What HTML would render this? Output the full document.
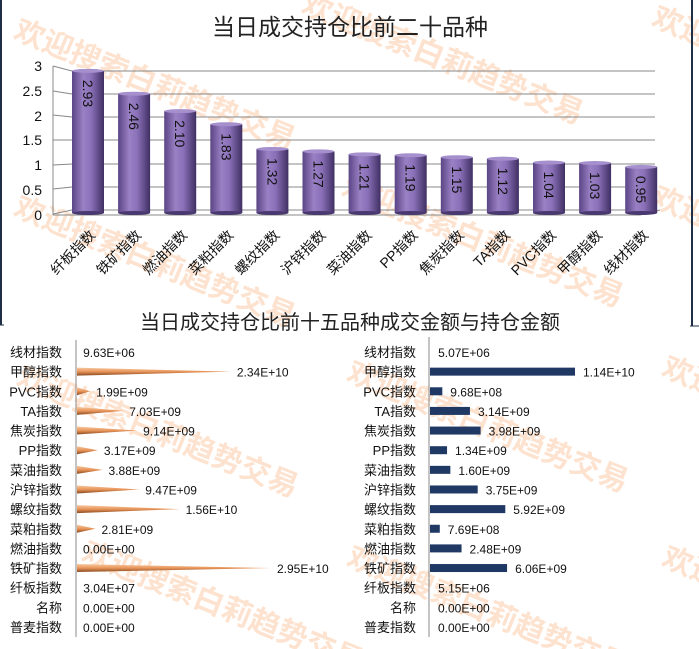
<!DOCTYPE html>
<html><head><meta charset="utf-8"><style>
html,body{margin:0;background:#fff;overflow:hidden;width:699px;height:649px;}
svg{display:block;font-family:"Liberation Sans","Noto Sans CJK SC",sans-serif;}
</style></head><body>
<svg width="699" height="649" viewBox="0 0 699 649" xmlns="http://www.w3.org/2000/svg">
<defs>
<linearGradient id="cyl" x1="0" x2="1" y1="0" y2="0">
<stop offset="0" stop-color="#5a4585"/><stop offset="0.35" stop-color="#9a80c4"/><stop offset="0.6" stop-color="#8a70b8"/><stop offset="1" stop-color="#3f2f62"/>
</linearGradient>
<linearGradient id="cone" x1="0" x2="0" y1="0" y2="1">
<stop offset="0" stop-color="#f7c8a0"/><stop offset="0.5" stop-color="#e8955a"/><stop offset="1" stop-color="#8a4a20"/>
</linearGradient>
</defs>
<rect width="699" height="649" fill="#fff"/>
<g fill="#fde3cf" font-weight="bold" font-size="30">
<text transform="translate(12,38) rotate(22)">欢迎搜索白莉趋势交易</text>
<text transform="translate(300,12) rotate(22)">欢迎搜索白莉趋势交易</text>
<text transform="translate(12,215) rotate(22)">欢迎搜索白莉趋势交易</text>
<text transform="translate(340,195) rotate(22)">欢迎搜索白莉趋势交易</text>
<text transform="translate(15,385) rotate(22)">欢迎搜索白莉趋势交易</text>
<text transform="translate(345,380) rotate(22)">欢迎搜索白莉趋势交易</text>
<text transform="translate(80,560) rotate(22)">欢迎搜索白莉趋势交易</text>
<text transform="translate(345,565) rotate(22)">欢迎搜索白莉趋势交易</text>
<text transform="translate(650,25) rotate(22)">欢迎</text>
<text transform="translate(650,205) rotate(22)">欢迎</text>
<text transform="translate(660,375) rotate(22)">欢迎</text>
<text transform="translate(660,565) rotate(22)">欢迎</text>
</g>
<line x1="1" y1="0" x2="1" y2="325" stroke="#1f2f45" stroke-width="2"/>
<line x1="692" y1="0" x2="692" y2="326" stroke="#1f2f45" stroke-width="2"/>
<line x1="0" y1="325" x2="4" y2="325" stroke="#1f2f45"/>
<line x1="690" y1="326" x2="699" y2="326" stroke="#1f2f45"/>

<text x="350" y="35" font-size="23" text-anchor="middle" fill="#222">当日成交持仓比前二十品种</text>
<g stroke="#888" stroke-width="1">
<line x1="72" y1="71" x2="655" y2="71"/><line x1="53" y1="66" x2="72" y2="71"/>
<line x1="72" y1="94" x2="655" y2="94"/><line x1="53" y1="91" x2="72" y2="94"/>
<line x1="72" y1="117" x2="655" y2="117"/><line x1="53" y1="115" x2="72" y2="117"/>
<line x1="72" y1="140" x2="655" y2="140"/><line x1="53" y1="140" x2="72" y2="140"/>
<line x1="72" y1="164" x2="655" y2="164"/><line x1="53" y1="165" x2="72" y2="164"/>
<line x1="72" y1="187" x2="655" y2="187"/><line x1="53" y1="189" x2="72" y2="187"/>
<line x1="72" y1="210" x2="655" y2="210"/><line x1="53" y1="214" x2="72" y2="210"/>
<line x1="53" y1="66" x2="53" y2="215"/>
<line x1="53" y1="215" x2="640" y2="215"/><line x1="640" y1="215" x2="660" y2="210"/>
</g>
<g font-size="14" fill="#111" text-anchor="end">
<text x="42" y="71">3</text><text x="42" y="96">2.5</text><text x="42" y="121">2</text><text x="42" y="145">1.5</text><text x="42" y="170">1</text><text x="42" y="195">0.5</text><text x="42" y="220">0</text>
</g>
<g id="bars" font-size="14" fill="#111"></g>
<script>
(function(){
var vals=[2.93,2.46,2.10,1.83,1.32,1.27,1.21,1.19,1.15,1.12,1.04,1.03,0.95];
var cats=["纤板指数","铁矿指数","燃油指数","菜粕指数","螺纹指数","沪锌指数","菜油指数","PP指数","焦炭指数","TA指数","PVC指数","甲醇指数","线材指数"];
var NS="http://www.w3.org/2000/svg",g=document.getElementById("bars");
function el(n,a,t){var e=document.createElementNS(NS,n);for(var k in a)e.setAttribute(k,a[k]);if(t)e.textContent=t;g.appendChild(e);return e;}
for(var i=0;i<13;i++){var cx=88+i*46.1,ty=213-vals[i]*48.5,w=32;
el("rect",{x:cx-w/2,y:ty,width:w,height:213-ty,fill:"url(#cyl)"});
el("ellipse",{cx:cx,cy:213,rx:w/2,ry:2,fill:"#4a3870"});
el("ellipse",{cx:cx,cy:ty,rx:w/2,ry:2,fill:"#a58fcc"});
el("text",{transform:"translate("+(cx-5)+","+(ty+9)+") rotate(90)","font-size":"14"},vals[i].toFixed(2));
el("text",{transform:"translate("+(cx+8)+",236) rotate(-45)","text-anchor":"end","font-size":"14"},cats[i]);}
})();
</script>

<text x="350" y="329" font-size="20" text-anchor="middle" fill="#222">当日成交持仓比前十五品种成交金额与持仓金额</text>
<line x1="76" y1="340" x2="76" y2="637" stroke="#888"/>
<line x1="429" y1="337" x2="429" y2="637" stroke="#888"/>
<g id="hb" font-size="12" fill="#111"></g>
<script>
(function(){
var NS="http://www.w3.org/2000/svg";
var c2=["线材指数","甲醇指数","PVC指数","TA指数","焦炭指数","PP指数","菜油指数","沪锌指数","螺纹指数","菜粕指数","燃油指数","铁矿指数","纤板指数","名称","普麦指数"];
var L=[9.63e6,2.34e10,1.99e9,7.03e9,9.14e9,3.17e9,3.88e9,9.47e9,1.56e10,2.81e9,0,2.95e10,3.04e7,0,0];
var R=[5.07e6,1.14e10,9.68e8,3.14e9,3.98e9,1.34e9,1.60e9,3.75e9,5.92e9,7.69e8,2.48e9,6.06e9,5.15e6,0,0];
var g2=document.getElementById("hb");
function e2(n,a,t){var e=document.createElementNS(NS,n);for(var k in a)e.setAttribute(k,a[k]);if(t)e.textContent=t;g2.appendChild(e);return e;}
function fmt(v){if(v==0)return "0.00E+00";var ex=Math.floor(Math.log10(v)),m=v/Math.pow(10,ex);if(m>=9.995){m/=10;ex++;}return m.toFixed(2)+"E+"+(ex<10?"0":"")+ex;}
for(var i=0;i<15;i++){var y=352+i*19.64;
e2("text",{x:62,y:y+5,"text-anchor":"end","font-size":"13"},c2[i]);
e2("text",{x:416,y:y+5,"text-anchor":"end","font-size":"13"},c2[i]);
var lw=L[i]/2.95e10*194;
if(lw>2)e2("polygon",{points:"77,"+(y-4)+" "+(77+lw)+","+y+" 77,"+(y+4),fill:"url(#cone)"});
e2("text",{x:Math.max(83,77+lw+6),y:y+5},fmt(L[i]));
var rw=R[i]/1.14e10*145;
if(rw>1)e2("rect",{x:430,y:y-4,width:rw,height:8,fill:"#1f3864"});
e2("text",{x:Math.max(437,430+rw+8),y:y+5},fmt(R[i]));}
})();
</script>
</svg>
</body></html>
